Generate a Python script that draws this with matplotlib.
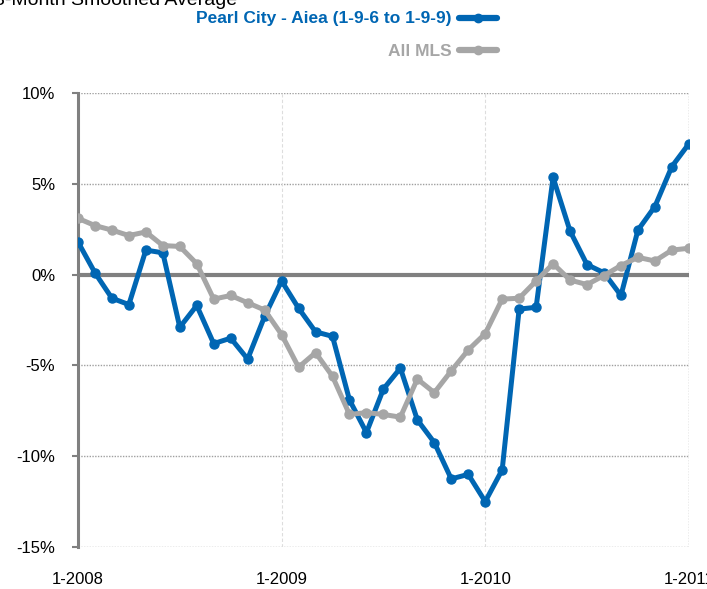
import matplotlib
matplotlib.use('Agg')
import matplotlib.pyplot as plt

plt.rcParams['font.family'] = ['Liberation Sans', 'DejaVu Sans']

# monthly values, 1-2008 .. 1-2011 (3-month smoothed, % change)
pearl_city = [1.8, 0.1, -1.3, -1.65, 1.35, 1.2, -2.9, -1.7, -3.8, -3.5, -4.65, -2.3,
              -0.35, -1.85, -3.15, -3.4, -6.9, -8.7, -6.3, -5.15, -8.0, -9.25, -11.25, -11.0,
              -12.5, -10.75, -1.9, -1.8, 5.35, 2.4, 0.55, 0.1, -1.15, 2.45, 3.75, 5.95,
              7.2]
all_mls = [3.1, 2.7, 2.45, 2.15, 2.35, 1.6, 1.55, 0.6, -1.35, -1.15, -1.55, -1.95,
           -3.3, -5.1, -4.3, -5.6, -7.7, -7.6, -7.7, -7.85, -5.75, -6.5, -5.3, -4.15,
           -3.25, -1.35, -1.3, -0.35, 0.6, -0.3, -0.55, -0.05, 0.5, 0.95, 0.75, 1.35,
           1.45]
months = list(range(len(pearl_city)))
x_ticks = [0, 12, 24, 36]
x_labels = ['1-2008', '1-2009', '1-2010', '1-2011']
y_ticks = [10, 5, 0, -5, -10, -15]
y_labels = ['10%', '5%', '0%', '-5%', '-10%', '-15%']

blue = '#0066B3'
gray = '#A6A6A6'

fig = plt.figure(figsize=(7.07, 5.89), dpi=100)
ax = fig.add_axes([0.1103, 0.0713, 0.864, 0.7708])

ax.set_xlim(0, 36)
ax.set_ylim(-15, 10)

# grid
for y in [10, 5, -5, -10, -15]:
    ax.axhline(y, color='#A0A0A0', lw=1, ls=(0, (1, 1)), zorder=1)
for x in [12, 24]:
    ax.axvline(x, color='#DDDDDD', lw=0.8, ls=(0, (3, 2)), zorder=1)
ax.axvline(36, color='#A0A0A0', lw=1, ls=(0, (1, 1)), zorder=1)
ax.axhline(0, color='#808080', lw=3, zorder=2)

ax.plot(months, pearl_city, color=blue, lw=3.6, marker='o', ms=6.5, zorder=3)
ax.plot(months, all_mls, color=gray, lw=3.6, marker='o', ms=6.5, zorder=4)

for s in ['top', 'right', 'bottom']:
    ax.spines[s].set_visible(False)
ax.spines['left'].set_color('#808080')
ax.spines['left'].set_linewidth(2.2)

ax.set_yticks(y_ticks)
ax.set_yticklabels(y_labels, fontsize=12)
ax.tick_params(axis='y', length=4.5, width=1.5, color='#808080', pad=12)
ax.set_xticks(x_ticks)
ax.set_xticklabels(x_labels, fontsize=12)
ax.tick_params(axis='x', length=0, pad=18)

# title (cut off at the top)
fig.text(-0.008, 0.999, '3-Month Smoothed Average', fontsize=14, ha='left', va='center')

# legend drawn by hand in the top right
fig.text(452 / 707, 1 - 19 / 589, 'Pearl City - Aiea (1-9-6 to 1-9-9)', color=blue,
         fontsize=12.5, fontweight='bold', ha='right', va='center')
fig.text(452 / 707, 1 - 52 / 589, 'All MLS', color=gray,
         fontsize=12.5, fontweight='bold', ha='right', va='center')
for yy, c in [(1 - 18 / 589, blue), (1 - 50 / 589, gray)]:
    fig.add_artist(plt.Line2D([459 / 707, 497 / 707], [yy, yy], color=c, lw=4.5,
                              solid_capstyle='round', transform=fig.transFigure))
    fig.add_artist(plt.Line2D([478 / 707], [yy], color=c, marker='o', ms=6,
                              transform=fig.transFigure))

fig.savefig('out.png', dpi=100)
